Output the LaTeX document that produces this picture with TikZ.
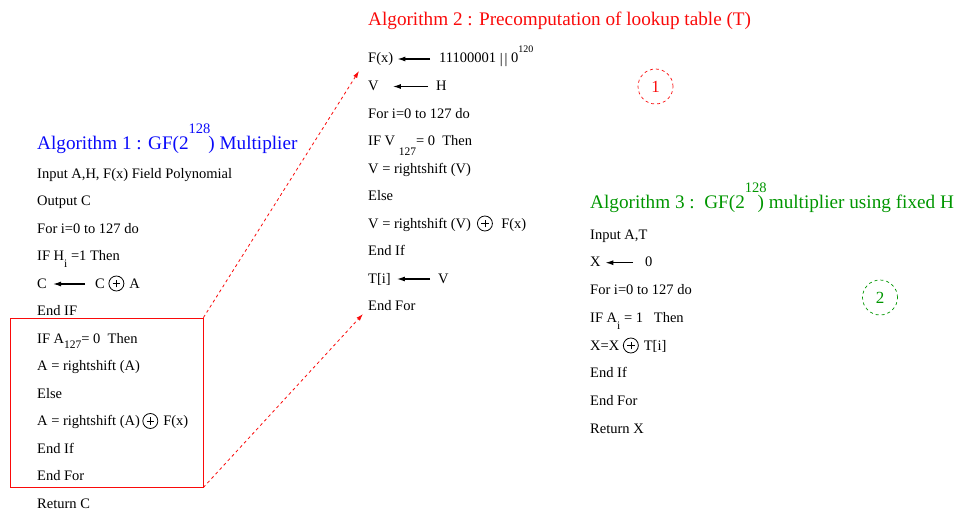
\documentclass[tikz,border=0pt]{standalone}
\usepackage{fontspec}
\setmainfont{Liberation Serif}
\usepackage{graphicx}
\usepackage{tikz}
\usetikzlibrary{arrows.meta, positioning}
\definecolor{algblue}{RGB}{10,10,250}
\definecolor{algred}{RGB}{250,10,10}
\definecolor{alggreen}{RGB}{0,150,0}
\newcommand{\xorop}{\tikz[baseline={(0pt,-4.5pt)}, x=1pt, y=1pt]{\draw[line width=0.8pt] (0pt,0pt) circle (7.5pt); \draw[line width=0.6pt] (-3.8pt,0pt) -- (3.8pt,0pt) (0pt,-3.8pt) -- (0pt,3.8pt);}\kern1.5pt}
\newcommand{\lowsub}[2][6pt]{\raisebox{-#1}{\fontsize{11.5}{12}\selectfont #2}}
\newcommand{\highsup}[2][16pt]{\raisebox{#1}{\fontsize{14.5}{15}\selectfont #2}}

\begin{document}
\begin{tikzpicture}[x=1pt, y=-1pt,
  algline/.style={anchor=base west, inner sep=0pt, font=\fontsize{14.5}{17}\selectfont},
  algtitle/.style={anchor=base west, inner sep=0pt, font=\fontsize{19.2}{22}\selectfont},
  assign/.style={-{Latex[length=8pt,width=5pt]}, line width=1.2pt},
  jump/.style={algred, line width=0.8pt, dash pattern=on 3pt off 3pt, -{Latex[length=7pt,width=4.5pt]}},
  stepmark/.style={circle, draw, dashed, line width=0.7pt, minimum size=35pt, inner sep=0pt, font=\fontsize{17}{20}\selectfont}]
  \useasboundingbox (0,0) rectangle (964,519);
  % algorithm 1
  \node[algtitle, algblue] (t1) at (37,149) {Algorithm 1 : GF(2\highsup{128}\kern-2pt) Multiplier};
  \node[algline] (a1in) at (37,178) {Input A,H, F(x) Field Polynomial};
  \node[algline] (a1out) at (37,205.5) {Output C};
  \node[algline] (a1for) at (37,233) {For i=0 to 127 do};
  \node[algline] (a1if) at (37,260.5) {IF H\lowsub[7pt]{i} =1 Then};
  \node[algline] (a1c) at (37,288) {C};
  \node[algline] (a1cx) at (95,288) {C \xorop{} A};
  \draw[assign] ([xshift=-10pt, yshift=4pt]a1cx.base west) -- ([xshift=6pt, yshift=4pt]a1c.base east);
  \node[algline] (a1endif) at (37,315.5) {End IF};
  \node[algline] (a1ifa) at (37,343) {IF A\lowsub[5pt]{127}= 0~~Then};
  \node[algline] (a1sh) at (37,370.5) {A = rightshift (A)};
  \node[algline] (a1else) at (37,398) {Else};
  \node[algline] (a1shx) at (37,425.5) {A = rightshift (A)\,\xorop{} F(x)};
  \node[algline] (a1endif2) at (37,453) {End If};
  \node[algline] (a1endfor) at (37,480.5) {End For};
  \node[algline] (a1ret) at (37,508) {Return C};
  \node[draw=algred, line width=0.8pt, minimum width=193pt, minimum height=169pt, inner sep=0pt] (loopbox) at (106.5,402.5) {};
  % algorithm 2
  \node[algtitle, algred] (t2) at (368,26) {Algorithm 2 : Precomputation of lookup table (T)};
  \node[algline] (a2f) at (368,63) {F(x)};
  \node[algline] (a2fv) at (439,63) {11100001 \raisebox{-1pt}{|\kern2pt|} 0\raisebox{10pt}{\fontsize{10}{11}\selectfont 120}};
  \draw[assign] ([xshift=-9pt, yshift=4pt]a2fv.base west) -- ([xshift=4pt, yshift=4pt]a2f.base east);
  \node[algline] (a2v) at (368,90.5) {V};
  \node[algline] (a2h) at (436,90.5) {H};
  \draw[assign] ([xshift=-8pt, yshift=4pt]a2h.base west) -- ([xshift=14pt, yshift=4pt]a2v.base east);
  \node[algline] (a2for) at (368,118) {For i=0 to 127 do};
  \node[algline] (a2if) at (368,145.5) {IF V \lowsub[10pt]{127}= 0~~Then};
  \node[algline] (a2sh) at (368,173) {V = rightshift (V)};
  \node[algline] (a2else) at (368,200.5) {Else};
  \node[algline] (a2shx) at (368,228) {V = rightshift (V)\hspace{6pt}\xorop\hspace{7pt}F(x)};
  \node[algline] (a2endif) at (368,255.5) {End If};
  \node[algline] (a2t) at (368,283) {T[i]};
  \node[algline] (a2tv) at (438,283) {V};
  \draw[assign] ([xshift=-8pt, yshift=4pt]a2tv.base west) -- ([xshift=6pt, yshift=4pt]a2t.base east);
  \node[algline] (a2endfor) at (368,310.5) {End For};
  \node[stepmark, algred] (s1) at (655.5,86.5) {1};
  % algorithm 3
  \node[algtitle, alggreen] (t3) at (590,208) {Algorithm 3 :~~GF(2\highsup{128}\kern-9pt) multiplier using fixed H};
  \node[algline] (a3in) at (590,239) {Input A,T};
  \node[algline] (a3x) at (590,266.7) {X};
  \node[algline] (a3z) at (645,266.7) {0};
  \draw[assign] ([xshift=-12pt, yshift=4pt]a3z.base west) -- ([xshift=4.5pt, yshift=4pt]a3x.base east);
  \node[algline] (a3for) at (590,294.4) {For i=0 to 127 do};
  \node[algline] (a3if) at (590,322) {IF A\lowsub[7pt]{i} = 1~~~Then};
  \node[algline] (a3xor) at (590,350) {X=X \xorop{} T[i]};
  \node[algline] (a3endif) at (590,377.5) {End If};
  \node[algline] (a3endfor) at (590,405) {End For};
  \node[algline] (a3ret) at (590,433) {Return X};
  \node[stepmark, alggreen] (s2) at (880,297.5) {2};
  % links from the loop to the table
  \coordinate (j1) at (359,71);
  \coordinate (j2) at (363,314);
  \draw[jump] (loopbox.north east) -- (j1);
  \draw[jump] (loopbox.south east) -- (j2);
\end{tikzpicture}
\end{document}
